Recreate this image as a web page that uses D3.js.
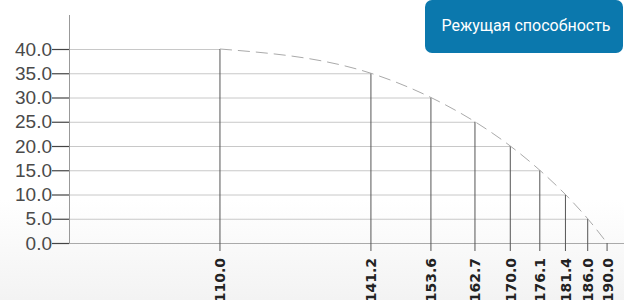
<!DOCTYPE html>
<html>
<head>
<meta charset="utf-8">
<script src="https://cdn.jsdelivr.net/npm/d3@7"></script>
<style>
body { margin: 0; background: #fff; }
svg { display: block; }
</style>
</head>
<body>
<script>
var width = 624, height = 300;

// data
var speeds = [110.0, 141.2, 153.6, 162.7, 170.0, 176.1, 181.4, 186.0, 190.0];
var cutting = [40, 35, 30, 25, 20, 15, 10, 5, 0];
var yTicks = [0, 5, 10, 15, 20, 25, 30, 35, 40];
var title = "Режущая способность";

var x = d3.scaleLinear().domain([78.8, 193.5]).range([69, 624]);
var y = d3.scaleLinear().domain([0, 40]).range([243, 49]);

var points = speeds.map(function(s, i) { return {x: s, y: cutting[i]}; });

var svg = d3.select("body")
	.append("svg")
	.attr("width", width)
	.attr("height", height);

var defs = svg.append("defs");
var grad = defs.append("linearGradient")
	.attr("id", "bg")
	.attr("x1", 0).attr("y1", 0).attr("x2", 0).attr("y2", 1);
grad.append("stop").attr("offset", "0%").attr("stop-color", "#ffffff");
grad.append("stop").attr("offset", "100%").attr("stop-color", "#f3f3f3");

svg.append("rect")
	.attr("x", 0).attr("y", 200)
	.attr("width", width).attr("height", 100)
	.attr("fill", "url(#bg)");

// horizontal lines from the axis to the curve
svg.selectAll(".hline")
	.data(points)
	.enter()
	.append("line")
	.attr("x1", x(78.8))
	.attr("x2", function(d) { return d.y == 0 ? width : x(d.x); })
	.attr("y1", function(d) { return y(d.y) + 0.5; })
	.attr("y2", function(d) { return y(d.y) + 0.5; })
	.attr("stroke", function(d) { return d.y == 0 ? "#aaa" : "#c8c8c8"; })
	.attr("stroke-width", 1);

// vertical drops to the x axis
svg.selectAll(".vline")
	.data(points)
	.enter()
	.append("line")
	.attr("x1", function(d) { return x(d.x); })
	.attr("x2", function(d) { return x(d.x); })
	.attr("y1", function(d) { return y(d.y); })
	.attr("y2", y(0) + 8)
	.attr("stroke", "#555")
	.attr("stroke-width", 1);

// dashed curve
var line = d3.line()
	.x(function(d) { return x(d.x); })
	.y(function(d) { return y(d.y); })
	.curve(d3.curveMonotoneX);

svg.append("path")
	.datum(points)
	.attr("d", line)
	.attr("fill", "none")
	.attr("stroke", "#aaa")
	.attr("stroke-width", 1)
	.attr("stroke-dasharray", "12,6");

// y axis
svg.append("line")
	.attr("x1", 69.5).attr("x2", 69.5)
	.attr("y1", 15).attr("y2", y(0) + 0.5)
	.attr("stroke", "#999");

svg.selectAll(".ytick")
	.data(yTicks)
	.enter()
	.append("line")
	.attr("x1", 52).attr("x2", 69)
	.attr("y1", function(d) { return y(d) + 0.5; })
	.attr("y2", function(d) { return y(d) + 0.5; })
	.attr("stroke", "#444")
	.attr("stroke-width", 1.2);

svg.selectAll(".ylabel")
	.data(yTicks)
	.enter()
	.append("text")
	.attr("x", 52)
	.attr("y", function(d) { return y(d) + 6.5; })
	.attr("text-anchor", "end")
	.attr("font-family", "Liberation Sans, Arial, sans-serif")
	.attr("font-size", 19)
	.attr("fill", "#4a4a4a")
	.text(function(d) { return d3.format(".1f")(d); });

// x labels, rotated
svg.selectAll(".xlabel")
	.data(speeds)
	.enter()
	.append("text")
	.attr("transform", function(d) { return "translate(" + (x(d) + 5.5) + "," + 258 + ") rotate(-90)"; })
	.attr("text-anchor", "end")
	.attr("font-family", "DejaVu Sans, sans-serif")
	.attr("font-weight", "bold")
	.attr("font-size", 14)
	.attr("fill", "#222")
	.text(function(d) { return d3.format(".1f")(d); });

// title badge
svg.append("rect")
	.attr("x", 425).attr("y", 0)
	.attr("width", 198).attr("height", 53)
	.attr("rx", 7)
	.attr("fill", "#0b78ad");

svg.append("text")
	.attr("x", 526)
	.attr("y", 31)
	.attr("text-anchor", "middle")
	.attr("font-family", "Roboto, sans-serif")
	.attr("font-size", 16)
	.attr("fill", "#fff")
	.text(title);
</script>
</body>
</html>
